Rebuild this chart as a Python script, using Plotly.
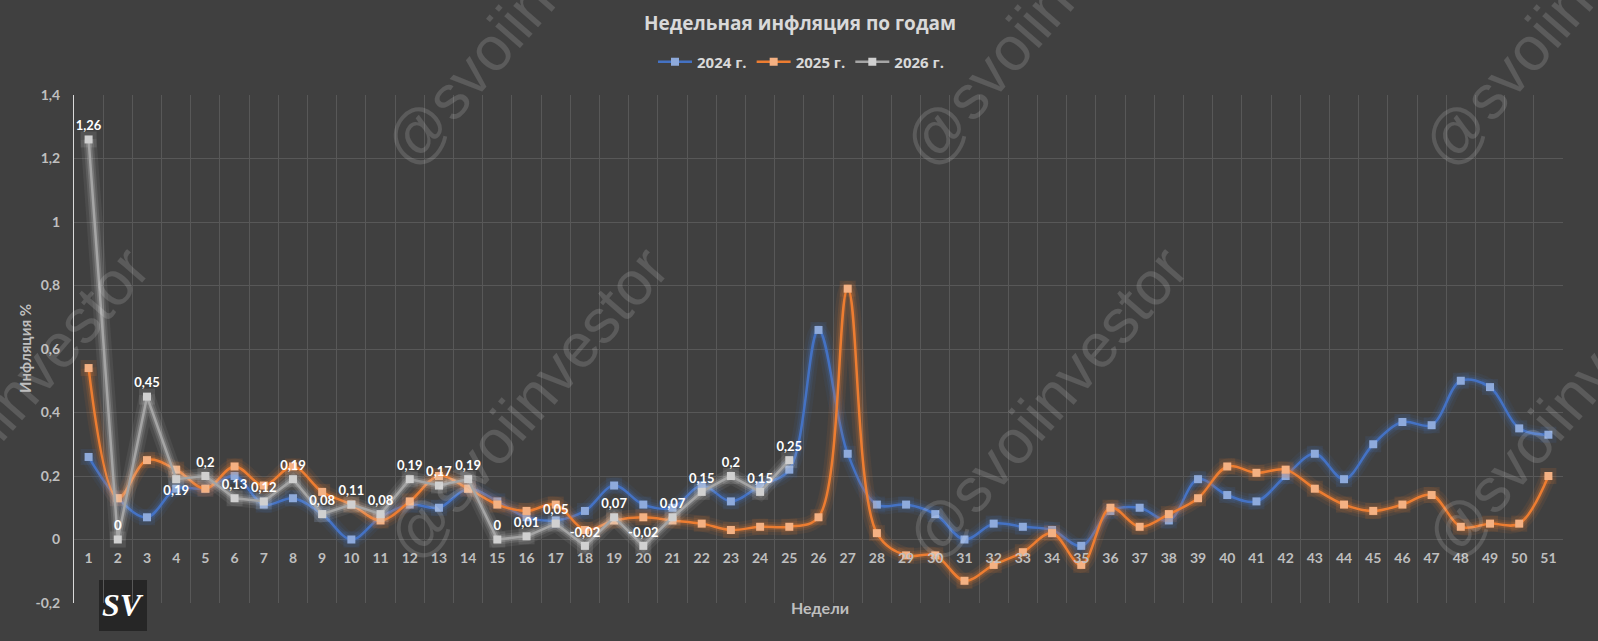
import plotly.graph_objects as go

# ---------------- data ----------------
weeks = [str(i) for i in range(1, 52)]

y2024 = [0.26, 0.13, 0.07, 0.16, 0.16, 0.20, 0.11, 0.13, 0.08, 0.00,
         0.07, 0.11, 0.10, 0.16, 0.12, 0.07, 0.06, 0.09, 0.17, 0.11,
         0.10, 0.17, 0.12, 0.17, 0.22, 0.66, 0.27, 0.11, 0.11, 0.08,
         0.00, 0.05, 0.04, 0.03, -0.02, 0.09, 0.10, 0.06, 0.19, 0.14,
         0.12, 0.20, 0.27, 0.19, 0.30, 0.37, 0.36, 0.50, 0.48, 0.35, 0.33]

y2025 = [0.54, 0.13, 0.25, 0.22, 0.16, 0.23, 0.17, 0.23, 0.15, 0.11,
         0.06, 0.12, 0.20, 0.16, 0.11, 0.09, 0.11, 0.03, 0.06, 0.07,
         0.06, 0.05, 0.03, 0.04, 0.04, 0.07, 0.79, 0.02, -0.05, -0.05,
         -0.13, -0.08, -0.04, 0.02, -0.08, 0.10, 0.04, 0.08, 0.13, 0.23,
         0.21, 0.22, 0.16, 0.11, 0.09, 0.11, 0.14, 0.04, 0.05, 0.05, 0.20]

y2026 = [1.26, 0.00, 0.45, 0.19, 0.20, 0.13, 0.12, 0.19, 0.08, 0.11,
         0.08, 0.19, 0.17, 0.19, 0.00, 0.01, 0.05, -0.02, 0.07, -0.02,
         0.07, 0.15, 0.20, 0.15, 0.25]

labels2026 = ["1,26", "0", "0,45", "0,19", "0,2", "0,13", "0,12", "0,19", "0,08", "0,11",
              "0,08", "0,19", "0,17", "0,19", "0", "0,01", "0,05", "-0,02", "0,07", "-0,02",
              "0,07", "0,15", "0,2", "0,15", "0,25"]

ytick_vals = [-0.2, 0, 0.2, 0.4, 0.6, 0.8, 1.0, 1.2, 1.4]
ytick_text = ["-0,2", "0", "0,2", "0,4", "0,6", "0,8", "1", "1,2", "1,4"]

series_names = ["2024 г.", "2025 г.", "2026 г."]

# ---------------- geometry / style ----------------
W, H = 1598, 641
ML, MR, MT, MB = 74, 35, 95, 38
PW, PH = W - ML - MR, H - MT - MB
BG = "#404040"
GRID = "#585858"
TICK_COLOR = "#bfbfbf"


def px2paper(px, py):
    return (px - ML) / PW, (H - MB - py) / PH


fig = go.Figure()


def add_series(name, xs, ys, line_color, marker_color, glow_rgb, shape, text=None, textpos=None):
    smoothing = 1.0 if shape == "spline" else None
    for w, a in [(16, 0.08), (10, 0.13), (6, 0.2)]:
        fig.add_trace(go.Scatter(
            x=xs, y=ys, mode="lines",
            line=dict(color=f"rgba({glow_rgb},{a})", width=w, shape=shape, smoothing=smoothing),
            showlegend=False, hoverinfo="skip"))
    fig.add_trace(go.Scatter(
        x=xs, y=ys, mode="markers",
        marker=dict(symbol="square", size=16, color=f"rgba({glow_rgb},0.13)", line=dict(width=0)),
        showlegend=False, hoverinfo="skip"))
    kw = {}
    mode = "lines+markers"
    if text is not None:
        mode = "lines+markers+text"
        kw = dict(text=text, textposition=textpos,
                  textfont=dict(family="Lato", size=13, color="#ffffff", weight="bold"))
    fig.add_trace(go.Scatter(
        x=xs, y=ys, mode=mode, name=name,
        line=dict(color=line_color, width=2.5, shape=shape, smoothing=smoothing),
        marker=dict(symbol="square", size=8, color=marker_color, line=dict(width=0)),
        cliponaxis=False, **kw))


add_series(series_names[0], weeks, y2024, "#4472c4", "#8eaadb", "68,114,196", "spline")
add_series(series_names[1], weeks, y2025, "#ed7d31", "#f4b183", "237,125,49", "spline")
positions = ["top center"] * len(y2026)
positions[3] = "bottom center"
add_series(series_names[2], weeks[:len(y2026)], y2026, "#a5a5a5", "#d0d0d0", "220,220,220",
           "linear", text=labels2026, textpos=positions)

# ---------------- annotations ----------------
annotations = []
# watermarks
wm_centers = [(8, 403), (527, 403), (1046, 403), (1565, 403),
              (524, 10), (1043, 10), (1562, 10)]
for cx, cy in wm_centers:
    ax, ay = px2paper(cx, cy)
    annotations.append(dict(
        x=ax, y=ay, xref="paper", yref="paper", text="@svoiinvestor", showarrow=False,
        textangle=-49, xanchor="center", yanchor="middle",
        font=dict(family="Liberation Sans", size=62, color="rgba(255,255,255,0.14)")))

# axis titles
tx, ty = px2paper(820, 607)
annotations.append(dict(x=tx, y=ty, xref="paper", yref="paper", text="Недели", showarrow=False,
                        xanchor="center", yanchor="middle",
                        font=dict(family="Lato", size=16, color=TICK_COLOR, weight="bold")))
tx, ty = px2paper(25, 349)
annotations.append(dict(x=tx, y=ty, xref="paper", yref="paper", text="Инфляция %", showarrow=False,
                        textangle=-90, xanchor="center", yanchor="middle",
                        font=dict(family="Lato", size=15, color=TICK_COLOR, weight="bold")))
# SV logo
lx, ly = px2paper(123, 605)
annotations.append(dict(x=lx, y=ly, xref="paper", yref="paper", text="<b><i>SV</i></b>", showarrow=False,
                        xanchor="center", yanchor="middle",
                        font=dict(family="Liberation Serif", size=32, color="#ffffff")))

x0, y1 = px2paper(99, 580)
x1, y0 = px2paper(147, 631)
shapes = [dict(type="rect", xref="paper", yref="paper", x0=x0, x1=x1, y0=y0, y1=y1,
               fillcolor="#262626", line=dict(width=0), layer="below")]

legx, legy = px2paper(801, 62)

fig.update_layout(
    width=W, height=H,
    margin=dict(l=ML, r=MR, t=MT, b=MB),
    paper_bgcolor=BG, plot_bgcolor=BG,
    title=dict(text="Недельная инфляция по годам", x=800 / W, xref="container", xanchor="center",
               y=1 - 23 / H, yref="container", yanchor="middle",
               font=dict(family="Open Sans", size=19, color="#d9d9d9", weight="bold")),
    legend=dict(orientation="h", x=legx, y=legy, xanchor="center", yanchor="middle",
                font=dict(family="Open Sans", size=15, color="#d9d9d9", weight="bold"),
                bgcolor="rgba(0,0,0,0)", itemwidth=34, tracegroupgap=0),
    showlegend=True,
    annotations=annotations,
    shapes=shapes,
    xaxis=dict(type="category", categoryorder="array", categoryarray=weeks,
               range=[-0.5, 50.5], tickson="boundaries",
               showgrid=True, gridcolor=GRID, gridwidth=1,
               anchor="free", position=0.125, showline=False, zeroline=False,
               ticks="", ticklabelstandoff=8,
               tickfont=dict(family="Lato", size=14, color=TICK_COLOR, weight="bold")),
    yaxis=dict(range=[-0.2, 1.4], tickvals=ytick_vals, ticktext=ytick_text,
               showgrid=True, gridcolor=GRID, gridwidth=1, zeroline=False,
               showline=True, linecolor="#d9d9d9", linewidth=1,
               ticks="", ticklabelstandoff=10,
               tickfont=dict(family="Lato", size=14, color=TICK_COLOR, weight="bold")),
)

fig.write_html("out.html")
